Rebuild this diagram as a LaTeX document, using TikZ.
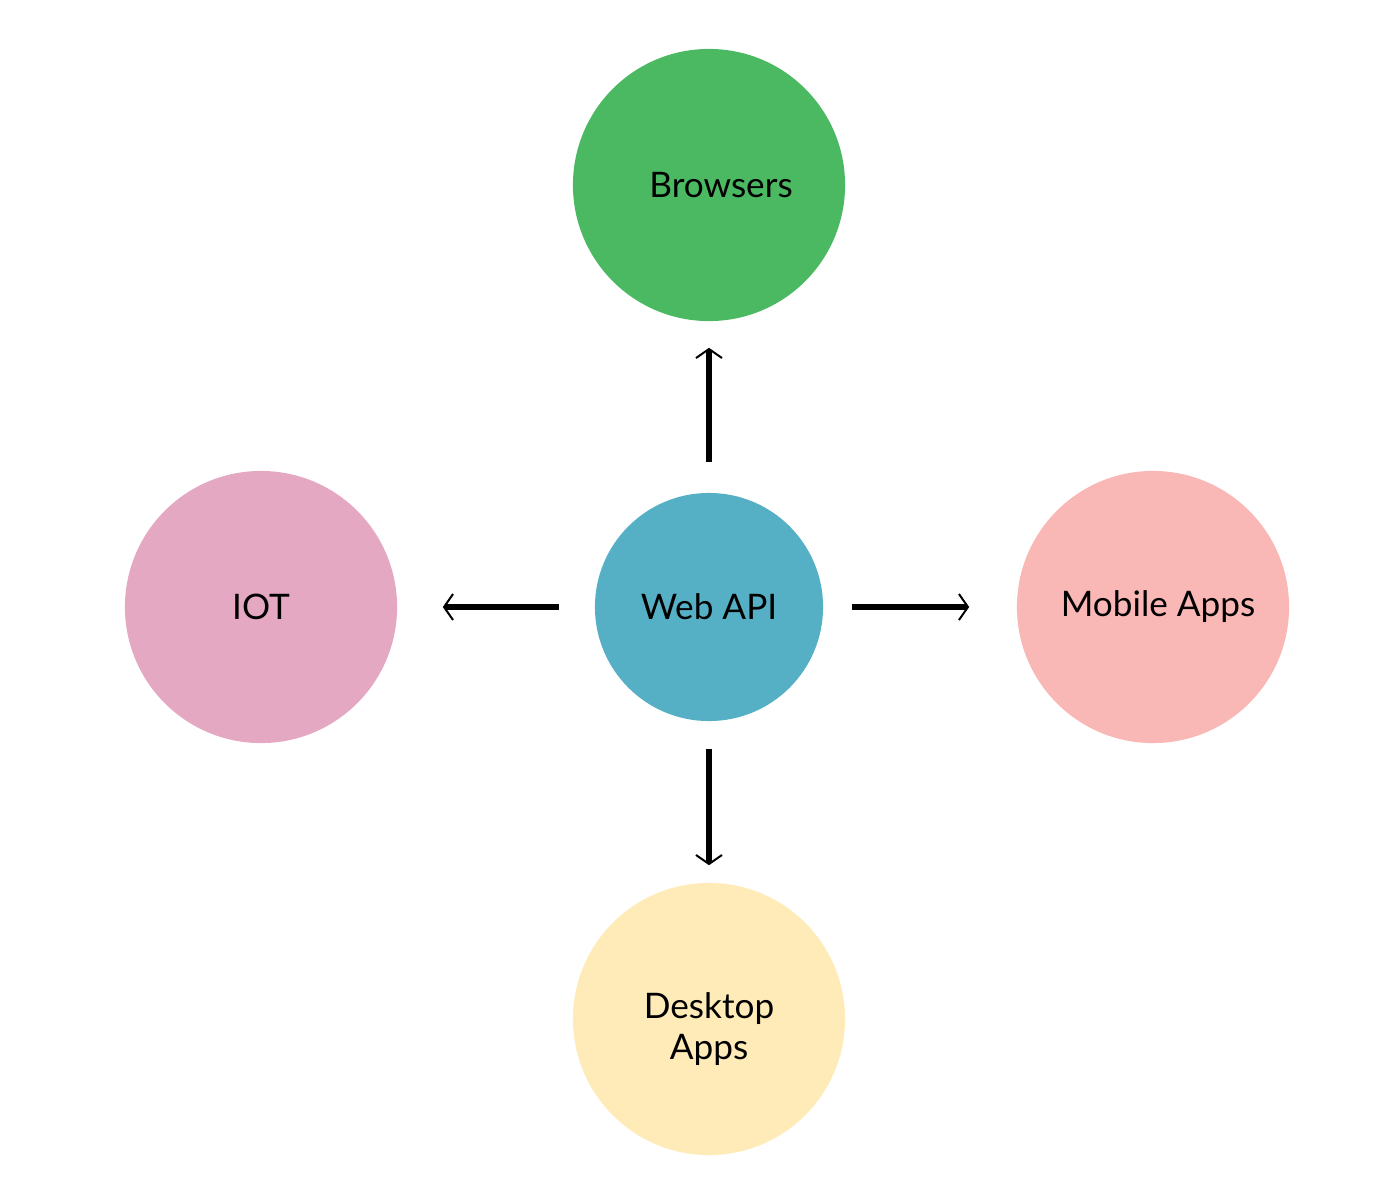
\documentclass[tikz,border=0pt]{standalone}
\usepackage{fontspec}
\setmainfont{Lato}
\usepackage{xcolor}
\usetikzlibrary{arrows.meta}

\definecolor{browsergreen}{HTML}{4BB962}
\definecolor{iotpink}{HTML}{E5A8C2}
\definecolor{apiteal}{HTML}{56B0C5}
\definecolor{mobilesalmon}{HTML}{F9B7B6}
\definecolor{desktopyellow}{HTML}{FEEBB8}

\tikzset{
  client/.style={circle, inner sep=0pt, minimum size=2.72cm, align=center,
    font=\fontsize{10}{11.9}\selectfont},
  flow/.style={line width=0.06cm,
    -{Straight Barb[length=0.09cm, width=0.26cm, line width=0.02cm]}}
}

\begin{document}
\begin{tikzpicture}[x=0.01cm, y=-0.01cm]
    \useasboundingbox (0,0) rectangle (1396,1184);

    % Hub
    \node[client, fill=apiteal, minimum size=2.28cm] (api) at (709,607) {Web API};

    % Clients
    \node[client, fill=browsergreen] (browsers) at (709,185)
        {\hspace*{0.24cm}Browsers};
    \node[client, fill=iotpink] (iot) at (261,607) {IOT};
    \node[client, fill=mobilesalmon] (mobile) at (1153,607)
        {\hspace*{0.1cm}Mobile Apps};
    \node[client, fill=desktopyellow,
        label={[align=center, font=\fontsize{10}{11.9}\selectfont, yshift=-0.1cm]center:Desktop\\Apps}]
        (desktop) at (709,1019) {};

    % Arrows out of the hub
    \draw[flow, shorten <=0.30cm, shorten >=0.26cm] (api) -- (browsers);
    \draw[flow, shorten <=0.35cm, shorten >=0.45cm] (api) -- (iot);
    \draw[flow, shorten <=0.28cm, shorten >=0.47cm] (api) -- (mobile);
    \draw[flow, shorten <=0.27cm, shorten >=0.17cm] (api) -- (desktop);
\end{tikzpicture}
\end{document}
